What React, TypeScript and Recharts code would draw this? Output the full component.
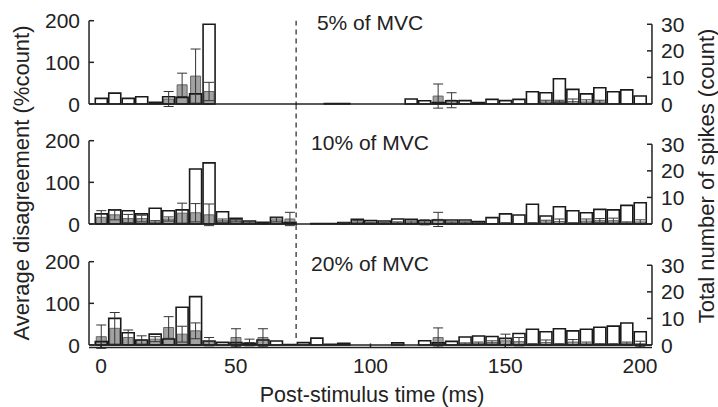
import React from "react";
import { ComposedChart, Bar, ErrorBar, XAxis, YAxis, ReferenceLine } from "recharts";

// post-stimulus time bins (ms)
const TIMES = [
  0, 5, 10, 15, 20, 25, 30, 35, 40, 45, 50, 55, 60, 65, 70, 75, 80, 85, 90, 95, 100,
  105, 110, 115, 120, 125, 130, 135, 140, 145, 150, 155, 160, 165, 170, 175, 180, 185, 190, 195, 200,
];

// 5% of MVC
const TOTAL_5 = [2.1, 4.1, 2.1, 2.75, 0.6, 2.75, 2.5, 3.8, 30, 0, 0, 0, 0, 0, 0, 0, 0, 0.2, 0.2, 0, 0, 0, 0, 1.9, 1.2, 0.5, 1.2, 1.25, 0.5, 1.75, 1.25, 1.75, 4.6, 4.25, 9.5, 5.5, 3.8, 6.1, 4.6, 5.3, 3];
const DIS_5 = [0, 0, 0, 0, 0, 12, 46, 67, 30, 0, 0, 0, 0, 0, 0, 0, 0, 0, 0, 0, 0, 0, 0, 0, 0, 19, 9, 0, 0, 0, 0, 0, 0, 5, 6, 6, 5, 5, 0, 0, 0];
const ERR_5 = [0, 0, 0, 0, 0, 18, 28, 65, 22, 0, 0, 0, 0, 0, 0, 0, 0, 0, 0, 0, 0, 0, 0, 0, 0, 29, 18, 0, 0, 0, 0, 0, 0, 4, 3, 6, 5, 4, 0, 0, 0];

// 10% of MVC
const TOTAL_10 = [3.8, 5.3, 5, 3.8, 5.9, 5, 5.3, 20.7, 23, 4.6, 2.1, 1.1, 0.6, 2.5, 0.5, 0, 0.2, 0.2, 0.5, 1.75, 1.25, 1.1, 1.9, 1.75, 1.25, 1.5, 1.5, 1.5, 0.9, 2.4, 3.8, 3.4, 7.4, 3, 6.5, 5, 4.25, 5.5, 5.3, 7, 8];
const DIS_10 = [16, 22, 13, 13, 5, 12, 26, 27, 22, 8, 8, 3, 1, 10, 12, 0, 0, 0, 2, 5, 2, 2, 3, 4, 4, 11, 3, 3, 2, 1, 2, 1, 2, 5, 6, 2, 7, 8, 8, 3, 5];
const ERR_10 = [16, 12, 10, 8, 3, 5, 24, 22, 26, 4, 3, 2, 0, 5, 16, 0, 0, 0, 1, 3, 1, 1, 2, 3, 6, 17, 2, 2, 1, 0, 1, 0, 1, 4, 6, 1, 5, 5, 6, 2, 5];

// 20% of MVC
const TOTAL_20 = [1.25, 10, 4.6, 1.9, 4.1, 2.25, 14.2, 18.2, 1.5, 1, 0.9, 0.6, 1.9, 1.5, 0.2, 0.9, 2.6, 0.3, 0.6, 0, 0, 0, 0.8, 0, 1.6, 0.8, 1.35, 3, 3.4, 3.2, 2.5, 4.3, 5.9, 5, 6.1, 5.3, 5.9, 6.7, 7.1, 8.3, 5];
const DIS_20 = [20, 40, 18, 12, 14, 42, 26, 34, 8, 0, 18, 6, 18, 0, 0, 0, 0, 0, 0, 0, 0, 0, 0, 0, 0, 18, 0, 3, 4, 6, 10, 8, 2, 6, 2, 7, 3, 2, 2, 4, 3];
const ERR_20 = [28, 38, 18, 10, 6, 26, 19, 19, 10, 0, 21, 8, 21, 0, 0, 0, 0, 0, 0, 0, 0, 0, 0, 0, 0, 23, 0, 2, 3, 4, 16, 10, 1, 6, 1, 6, 4, 1, 1, 3, 6];

const PANEL_TITLES = ["5% of MVC", "10% of MVC", "20% of MVC"];
const LEFT_TICKS = [0, 100, 200];
const RIGHT_TICKS = [0, 10, 20, 30];
const X_TICKS = [0, 50, 100, 150, 200];
const STIM_END = 72.4;

const X_MIN = -4.45;
const X_MAX = 204.45;
const K = 0.4165; // px per %count
const PCT_PER_COUNT = 6.38;
const PAD = -6;
const X_AXIS_H = 40;
const SPARE = 20; // room below the plot so the "0" labels are not cut
const GAP = 9; // label gap from axis
const TICK_LEN = 5;
const FONT = "'Liberation Sans', Arial, Helvetica, sans-serif";
const INK = "#222";

// ticks point inwards, labels sit outside
function LeftTick({ x, y, payload }: any) {
  return (
    <g>
      <line x1={x + GAP} x2={x + GAP + TICK_LEN} y1={y} y2={y} stroke={INK} strokeWidth={1.5} />
      <text x={x} y={y} dy="0.36em" textAnchor="end" fontSize={21} fill={INK} fontFamily={FONT}>{payload.value}</text>
    </g>
  );
}

function RightTick({ x, y, payload }: any) {
  return (
    <g>
      <line x1={x - GAP} x2={x - GAP - TICK_LEN} y1={y} y2={y} stroke={INK} strokeWidth={1.5} />
      <text x={x} y={y} dy="0.36em" textAnchor="start" fontSize={21} fill={INK} fontFamily={FONT}>{payload.value}</text>
    </g>
  );
}

function BottomTick({ x, y, payload }: any) {
  return (
    <g>
      <line x1={x} x2={x} y1={y - 10} y2={y - 14} stroke={INK} strokeWidth={1.5} />
      <text x={x} y={y} dy="0.72em" textAnchor="middle" fontSize={21} fill={INK} fontFamily={FONT}>{payload.value}</text>
    </g>
  );
}

interface PanelProps {
  total: number[];
  dis: number[];
  err: number[];
  plotTop: number;
  base: number;
  showX?: boolean;
  dashFrom?: number;
}

function Panel({ total, dis, err, plotTop, base, showX = false, dashFrom }: PanelProps) {
  const plotBottom = base - PAD * K;
  const yTop = (base - plotTop) / K;
  const data = TIMES.map((t, i) => ({ t, total: total[i], dis: dis[i], err: err[i] }));
  const bottom = showX ? 0 : SPARE;
  const height = plotBottom + (showX ? X_AXIS_H : SPARE);

  return (
    <div style={{ position: "absolute", left: 0, top: 0 }}>
      <ComposedChart width={718} height={height} data={data} margin={{ top: plotTop, right: 0, bottom, left: 0 }}>
        <XAxis
          xAxisId="w" dataKey="t" type="number" domain={[X_MIN, X_MAX]} allowDataOverflow
          hide={!showX} ticks={X_TICKS} interval={0} height={X_AXIS_H}
          tickSize={0} tickMargin={10} tick={<BottomTick />}
          axisLine={{ stroke: INK, strokeWidth: 1.5 }} tickLine={false}
        />
        <XAxis xAxisId="g" dataKey="t" type="number" domain={[X_MIN, X_MAX]} allowDataOverflow hide height={0} />
        <YAxis
          yAxisId="left" width={89} domain={[PAD, yTop]} allowDataOverflow ticks={LEFT_TICKS} interval={0}
          axisLine={false} tickLine={false} tickSize={0} tickMargin={GAP} tick={<LeftTick />}
        />
        <YAxis
          yAxisId="right" orientation="right" width={66}
          domain={[PAD / PCT_PER_COUNT, yTop / PCT_PER_COUNT]} allowDataOverflow ticks={RIGHT_TICKS} interval={0}
          axisLine={false} tickLine={false} tickSize={0} tickMargin={GAP} tick={<RightTick />}
        />
        {dashFrom === undefined ? (
          <ReferenceLine xAxisId="w" yAxisId="left" x={STIM_END} stroke="#333" strokeWidth={1.3} strokeDasharray="5 4" />
        ) : (
          <ReferenceLine
            xAxisId="w" yAxisId="left" stroke="#333" strokeWidth={1.3} strokeDasharray="5 4"
            segment={[{ x: STIM_END, y: dashFrom }, { x: STIM_END, y: yTop }]}
          />
        )}
        <Bar xAxisId="g" yAxisId="left" dataKey="dis" barSize={10} fill="#a2a2a2" stroke="#666" strokeWidth={1} isAnimationActive={false}>
          <ErrorBar dataKey="err" width={5} stroke="#333" strokeWidth={1} direction="y" />
        </Bar>
        <Bar xAxisId="w" yAxisId="right" dataKey="total" barSize={12} fill="none" stroke="#1a1a1a" strokeWidth={1.6} isAnimationActive={false} />
        <ReferenceLine xAxisId="w" yAxisId="left" y={0} stroke={INK} strokeWidth={1.5} />
        <ReferenceLine
          xAxisId="w" yAxisId="left" stroke={INK} strokeWidth={1.5} ifOverflow="visible"
          segment={[{ x: X_MIN, y: 0 }, { x: X_MIN, y: 200 }]}
        />
        <ReferenceLine
          xAxisId="w" yAxisId="right" stroke={INK} strokeWidth={1.5} ifOverflow="visible"
          segment={[{ x: X_MAX, y: 0 }, { x: X_MAX, y: 30 }]}
        />
      </ComposedChart>
    </div>
  );
}

const textBase: React.CSSProperties = {
  position: "absolute",
  fontFamily: FONT,
  color: INK,
  whiteSpace: "nowrap",
  lineHeight: 1,
};

export default function App() {
  const titleY = [22, 142, 262.5];
  return (
    <div style={{ position: "absolute", left: 0, top: 0, width: 718, height: 407, background: "#fff", overflow: "hidden" }}>
      <Panel total={TOTAL_5} dis={DIS_5} err={ERR_5} plotTop={20.7} base={104} />
      <Panel total={TOTAL_10} dis={DIS_10} err={ERR_10} plotTop={106.5} base={224} />
      <Panel total={TOTAL_20} dis={DIS_20} err={ERR_20} plotTop={226.5} base={345} showX dashFrom={17} />

      {PANEL_TITLES.map((title, i) => (
        <div key={title} style={{ ...textBase, left: 370, top: titleY[i], fontSize: 21, transform: "translate(-50%, -50%)" }}>
          {title}
        </div>
      ))}
      <div style={{ ...textBase, left: 22, top: 183, fontSize: 22, transform: "translate(-50%, -50%) rotate(-90deg)" }}>
        Average disagreement (%count)
      </div>
      <div style={{ ...textBase, left: 707, top: 176, fontSize: 22, transform: "translate(-50%, -50%) rotate(-90deg)" }}>
        Total number of spikes (count)
      </div>
      <div style={{ ...textBase, left: 372, top: 396, fontSize: 21.5, transform: "translate(-50%, -50%)" }}>
        Post-stimulus time (ms)
      </div>
    </div>
  );
}
